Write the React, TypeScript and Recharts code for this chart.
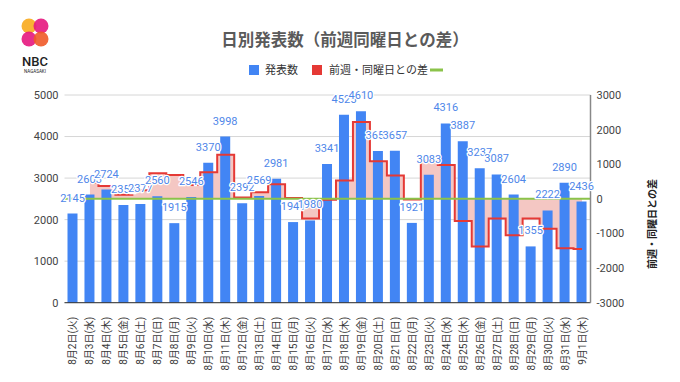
import React from 'react';
import { ComposedChart, Bar, Area, Line, XAxis, YAxis, CartesianGrid, ReferenceLine, LabelList } from 'recharts';

const dates = [
  '8月2日(火)', '8月3日(水)', '8月4日(木)', '8月5日(金)', '8月6日(土)', '8月7日(日)', '8月8日(月)',
  '8月9日(火)', '8月10日(水)', '8月11日(木)', '8月12日(金)', '8月13日(土)', '8月14日(日)', '8月15日(月)',
  '8月16日(火)', '8月17日(水)', '8月18日(木)', '8月19日(金)', '8月20日(土)', '8月21日(日)', '8月22日(月)',
  '8月23日(火)', '8月24日(水)', '8月25日(木)', '8月26日(金)', '8月27日(土)', '8月28日(日)', '8月29日(月)',
  '8月30日(火)', '8月31日(水)', '9月1日(木)',
];

const counts = [
  2145, 2603, 2724, 2352, 2377, 2560, 1915,
  2546, 3370, 3998, 2392, 2569, 2981, 1941,
  1980, 3341, 4525, 4610, 3653, 3657, 1921,
  3083, 4316, 3887, 3237, 3087, 2604, 1355,
  2222, 2890, 2436,
];

const diffs: (number | null)[] = [
  null, 470, 370, 120, 250, 740, 690,
  401, 767, 1274, 40, 192, 421, 26,
  -566, -29, 527, 2218, 1084, 676, -20,
  1103, 975, -638, -1373, -566, -1053, -566,
  -861, -1426, -1451,
];

const leftTicks = [0, 1000, 2000, 3000, 4000, 5000];
const rightTicks = [-3000, -2000, -1000, 0, 1000, 2000, 3000];

const seriesNames = ['発表数', '前週・同曜日との差'];
const titleText = '日別発表数（前週同曜日との差）';
const rightAxisTitle = '前週・同曜日との差';

const data = dates.map((d, i) => ({ date: d, count: counts[i], diff: diffs[i] }));

const FONT = 'Roboto, "Noto Sans CJK JP", "Noto Sans", sans-serif';

const XTick = (props: any) => {
  const { x, y, payload } = props;
  return (
    <text
      transform={`translate(${x},${y + 6}) rotate(-90)`}
      textAnchor="end"
      dy="0.35em"
      fontSize={10}
      fill="#3a3a3a"
      fontFamily={FONT}
    >
      {payload.value}
    </text>
  );
};

const renderBarLabel = (props: any) => {
  const { x, y, width, value } = props;
  return (
    <text
      x={Number(x) + Number(width) / 2}
      y={Number(y) - 12}
      textAnchor="middle"
      fontSize={11}
      fill="#4f87e9"
      stroke="#fff"
      strokeWidth={2.5}
      strokeLinejoin="round"
      paintOrder="stroke"
      fontFamily={FONT}
    >
      {value}
    </text>
  );
};

export default function App() {
  return (
    <div style={{ position: 'absolute', left: 0, top: 0, width: 680, height: 382, background: '#fff', fontFamily: FONT }}>
      <div style={{ position: 'absolute', left: 0, top: 0 }}>
        <ComposedChart
          width={680}
          height={382}
          data={data}
          margin={{ top: 95, right: 0, bottom: 0, left: 0 }}
        >
          <CartesianGrid vertical={false} stroke="#d6d6d6" />
          <XAxis
            dataKey="date"
            interval={0}
            height={79.3}
            tick={<XTick />}
            tickLine={false}
            axisLine={{ stroke: '#333', strokeWidth: 1 }}
          />
          <YAxis
            domain={[0, 5000]}
            ticks={leftTicks}
            width={64.5}
            axisLine={false}
            tickLine={false}
            tickSize={0}
            tickMargin={6}
            tick={{ fontSize: 11, fill: '#444', fontFamily: FONT }}
          />
          <YAxis
            yAxisId="right"
            orientation="right"
            domain={[-3000, 3000]}
            ticks={rightTicks}
            width={89.5}
            axisLine={{ stroke: '#888', strokeWidth: 1.5 }}
            tickLine={false}
            tickSize={0}
            tickMargin={6}
            tick={{ fontSize: 11, fill: '#444', fontFamily: FONT, textAnchor: 'start' }}
          />
          <Area
            yAxisId="right"
            type="step"
            dataKey="diff"
            stroke="none"
            fill="#f4c7c3"
            fillOpacity={1}
            baseValue={0}
            isAnimationActive={false}
          />
          <Bar dataKey="count" fill="#4285f4" barSize={10} isAnimationActive={false}>
            <LabelList dataKey="count" content={renderBarLabel} />
          </Bar>
          <Line
            yAxisId="right"
            type="step"
            dataKey="diff"
            stroke="#e53935"
            strokeWidth={2}
            dot={false}
            activeDot={false}
            isAnimationActive={false}
          />
          <ReferenceLine yAxisId="right" y={0} stroke="#8bc34a" strokeWidth={2} />
        </ComposedChart>
      </div>
      <svg width={680} height={382} style={{ position: 'absolute', left: 0, top: 0, pointerEvents: 'none' }}>
        <g>
          <circle cx={29} cy={26} r={7.5} fill="#f9b233" />
          <circle cx={41} cy={26} r={7.5} fill="#e5177e" opacity={0.9} />
          <circle cx={29} cy={39} r={7.5} fill="#e5177e" opacity={0.9} />
          <circle cx={41} cy={39} r={7.5} fill="#ef5a28" opacity={0.9} />
          <text x={35} y={66} textAnchor="middle" fontSize={13} fontWeight={500} fill="#222" fontFamily={FONT}>NBC</text>
          <text x={35} y={73} textAnchor="middle" fontSize={4.5} fill="#222" fontFamily={FONT}>NAGASAKI</text>
        </g>
        <text x={345} y={46} textAnchor="middle" fontSize={16.5} fontWeight={700} fill="#5a5a5a" fontFamily={FONT}>{titleText}</text>
        <rect x={249} y={65} width={10} height={10} fill="#4285f4" />
        <text x={265} y={74} fontSize={11} fill="#333" fontFamily={FONT}>{seriesNames[0]}</text>
        <rect x={312} y={65} width={10} height={10} fill="#e53935" />
        <text x={329} y={74} fontSize={11} fill="#333" fontFamily={FONT}>{seriesNames[1]}</text>
        <line x1={430} x2={443} y1={70} y2={70} stroke="#8bc34a" strokeWidth={3} />
        <text
          transform="translate(652,224) rotate(-90)"
          textAnchor="middle"
          dy="0.35em"
          fontSize={10}
          fontWeight={700}
          fill="#222"
          fontFamily={FONT}
        >
          {rightAxisTitle}
        </text>
      </svg>
    </div>
  );
}
